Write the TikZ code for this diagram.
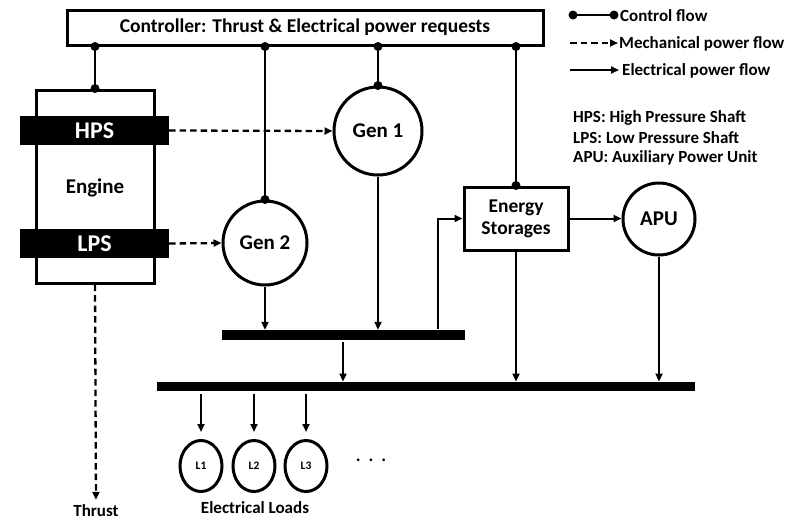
\documentclass[tikz,border=0pt]{standalone}
\usepackage{fontspec}
\setmainfont{Carlito}
\usetikzlibrary{arrows.meta,shapes.geometric}
\tikzset{
  box/.style={draw, line width=3pt, inner sep=0pt, font=\bfseries\fontsize{19.5}{22}\selectfont, align=center},
  round/.style={draw, circle, line width=3pt, inner sep=0pt, font=\bfseries\fontsize{21}{24}\selectfont},
  shaft/.style={fill=black, inner sep=0pt, text=white, font=\bfseries\fontsize{24}{28}\selectfont},
  bar/.style={fill=black, inner sep=0pt},
  ctl/.style={line width=2.3pt},
  mech/.style={line width=2.3pt, dash pattern=on 6.5pt off 4pt, -{Triangle[length=8pt,width=7pt]}},
  elec/.style={line width=2pt, -{Triangle[length=8pt,width=7pt]}},
  load/.style={draw, ellipse, line width=3pt, inner sep=0pt, minimum width=42pt, minimum height=51pt, font=\bfseries\fontsize{11.5}{13}\selectfont},
  lbl/.style={inner sep=2pt, font=\bfseries\fontsize{17}{20}\selectfont},
  abbr/.style={anchor=west, inner sep=0pt, font=\bfseries\fontsize{17}{20}\selectfont},
}
\begin{document}
\begin{tikzpicture}[x=1pt,y=-1pt]
\useasboundingbox (0,0) rectangle (802,520);
% main blocks
\node[box, minimum width=476pt, minimum height=35pt] (ctrl) at (305,27.5) {Controller: Thrust \& Electrical power requests};
\node[box, minimum width=118pt, minimum height=193pt] (engine) at (95,186.5) {};
\node[font=\bfseries\fontsize{21}{24}\selectfont, inner sep=0pt] (enginelbl) at (95,188) {Engine};
\node[shaft, minimum width=149pt, minimum height=29pt] (hps) at (94.5,130.5) {HPS};
\node[shaft, minimum width=149pt, minimum height=29pt] (lps) at (94.5,243.5) {LPS};
\node[round, minimum size=88pt] (gen1) at (378,131) {Gen 1};
\node[round, minimum size=84pt] (gen2) at (265,243) {Gen 2};
\node[box, minimum width=104pt, minimum height=63pt] (es) at (516,218.5) {Energy\\Storages};
\node[round, minimum size=72pt] (apu) at (659,219) {APU};
\node[bar, minimum width=243pt, minimum height=10pt] (bus1) at (343.5,335) {};
\node[bar, minimum width=538pt, minimum height=9.5pt] (bus2) at (426,386.5) {};
\node[load] (l1) at (201,466) {L1};
\node[load] (l2) at (254,466) {L2};
\node[load] (l3) at (306,466) {L3};
\node[font=\bfseries\fontsize{18}{20}\selectfont, inner sep=0pt] (dots) at (371,460) {.\hspace{8pt}.\hspace{8pt}.};
\node[lbl] (thrust) at (96,511) {Thrust};
\node[lbl] (loads) at (255,508) {Electrical Loads};
% control flow
\foreach \t in {engine,gen2,gen1,es}{
  \draw[ctl] (ctrl.south -| \t.north) -- (\t.north);
  \fill (ctrl.south -| \t.north) circle (4.5pt);
  \fill (\t.north) circle (4.5pt);
}
% mechanical power flow
\draw[mech] (hps.east) -- (gen1.west);
\draw[mech] (lps.east) -- (gen2.west);
\draw[mech, shorten >=3pt] (engine.south) -- (thrust.north);
% electrical power flow
\draw[elec] (gen2.south) -- (gen2.south |- bus1.north);
\draw[elec] (gen1.south) -- (gen1.south |- bus1.north);
\coordinate (b1tap) at (438,329);
\draw[elec] (b1tap) |- (es.west);
\coordinate (b1out) at (343,342);
\draw[elec] (b1out) -- (b1out |- bus2.north);
\draw[elec] (es.south) -- (es.south |- bus2.north);
\draw[elec] (apu.south) -- (apu.south |- bus2.north);
\foreach \l in {l1,l2,l3}{
  \draw[elec, shorten <=3pt, shorten >=7pt] (bus2.south -| \l.north) -- (\l.north);
}
\draw[elec] (es.east) -- (es.east -| apu.west);
% legend
\coordinate (lc1) at (573,15); \coordinate (lc2) at (614,15);
\draw[ctl] (lc1) -- (lc2);
\fill (lc1) circle (4.5pt); \fill (lc2) circle (4.5pt);
\node[abbr] (lgc) at (620,15.5) {Control flow};
\coordinate (lm1) at (570,43); \coordinate (lm2) at (618,43);
\draw[mech] (lm1) -- (lm2);
\node[abbr] (lgm) at (619,43.5) {Mechanical power flow};
\coordinate (le1) at (570,70); \coordinate (le2) at (619,70);
\draw[elec] (le1) -- (le2);
\node[abbr] (lge) at (622,70.5) {Electrical power flow};
\node[abbr] (ab1) at (573,118) {HPS: High Pressure Shaft};
\node[abbr] (ab2) at (573,138) {LPS: Low Pressure Shaft};
\node[abbr] (ab3) at (573,158) {APU: Auxiliary Power Unit};
\end{tikzpicture}
\end{document}
